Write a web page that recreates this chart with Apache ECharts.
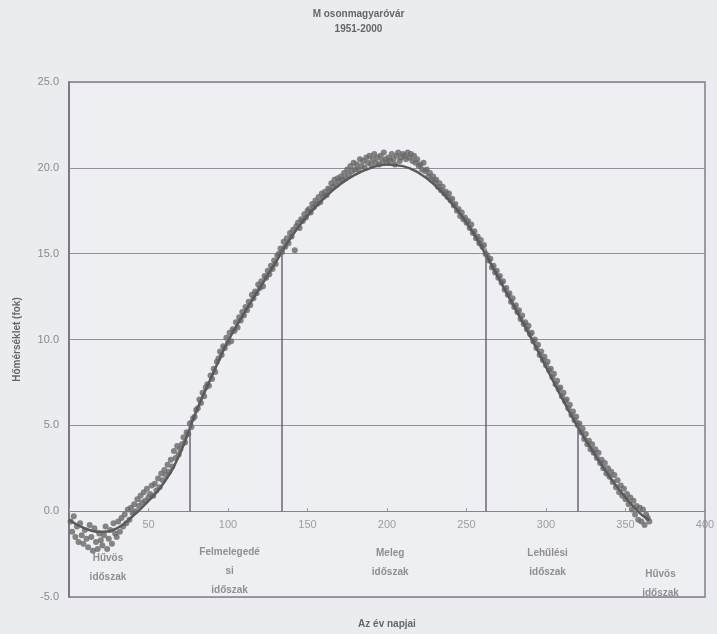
<!DOCTYPE html>
<html>
<head>
<meta charset="utf-8">
<script src="https://cdn.jsdelivr.net/npm/echarts@6/dist/echarts.min.js"></script>
<style>
  html, body { margin: 0; padding: 0; background: #ebecf0; }
  #chart { width: 717px; height: 634px; }
</style>
</head>
<body>
<div id="chart"></div>
<script>
// Daily mean temperature, Mosonmagyaróvár 1951-2000 (day 1 .. 365)
const dailyTemps = [
  -0.6, -1.2, -0.3, -1.5, -0.9, -1.8, -0.7, -1.4, -1.9, -1.1,
  -1.6, -2.1, -0.8, -1.5, -2.3, -1.0, -1.8, -2.2, -1.3, -1.7,
  -2.0, -1.4, -0.9, -2.2, -1.6, -1.1, -1.9, -0.7, -1.3, -1.5,
  -0.6, -1.2, -0.4, -0.9, -0.2, -0.7, 0.1, -0.5, 0.2, -0.1,
  0.4, 0.0, 0.7, 0.3, 0.9, 0.5, 1.1, 0.6, 1.3, 0.8,
  1.0, 1.5, 0.9, 1.6, 1.2, 1.9, 1.4, 2.2, 1.8, 2.4,
  2.1, 2.7, 2.3, 3.0, 2.6, 3.5, 3.1, 3.8, 3.3, 3.6,
  3.9, 4.3, 4.0, 4.6, 4.5, 5.1, 4.9, 5.4, 5.5, 5.9,
  6.0, 6.5, 6.3, 6.9, 6.7, 7.2, 7.4, 7.3, 7.9, 7.7,
  8.3, 8.1, 8.7, 8.9, 9.3, 9.1, 9.6, 9.5, 10.1, 9.8,
  10.4, 9.9, 10.6, 10.5, 11.0, 10.7, 11.3, 11.1, 11.6, 11.4,
  11.9, 11.7, 12.2, 12.0, 12.6, 12.4, 12.8, 12.7, 13.2, 13.0,
  13.4, 13.1, 13.7, 13.6, 14.0, 13.8, 14.3, 14.1, 14.6, 14.4,
  14.9, 15.0, 15.3, 15.1, 15.7, 15.4, 15.9, 15.6, 16.2, 16.0,
  16.4, 15.2, 16.6, 16.8, 16.5, 17.0, 16.9, 17.3, 17.1, 17.5,
  17.6, 17.4, 17.9, 17.7, 18.1, 17.9, 18.3, 18.0, 18.5, 18.3,
  18.6, 18.4, 18.8, 18.7, 19.1, 18.9, 19.3, 19.0, 19.4, 19.2,
  19.5, 19.3, 19.7, 19.4, 19.9, 19.6, 20.1, 19.8, 20.3, 19.9,
  20.2, 19.9, 20.5, 20.1, 20.4, 20.0, 20.6, 20.3, 20.7, 20.2,
  20.5, 20.8, 20.3, 20.6, 20.2, 20.7, 20.4, 20.9, 20.5, 20.3,
  20.6, 20.4, 20.8, 20.5, 20.2, 20.7, 20.9, 20.4, 20.6, 20.8,
  20.7, 20.5, 20.9, 20.6, 20.8, 20.4, 20.7, 20.3, 20.5, 20.1,
  20.2, 19.9, 20.3, 19.8, 19.9, 19.5, 19.7, 19.3, 19.5, 19.2,
  19.3, 18.9, 19.1, 18.7, 18.9, 18.5, 18.6, 18.3, 18.5, 18.1,
  18.2, 17.8, 17.9, 17.5, 17.6, 17.2, 17.4, 17.0, 17.1, 16.8,
  16.9, 16.5, 16.7, 16.2, 16.3, 15.9, 16.0, 15.6, 15.8, 15.4,
  15.5, 15.0, 14.9, 14.6, 14.7, 14.2, 14.3, 13.9, 14.0, 13.6,
  13.7, 13.3, 13.4, 12.9, 13.0, 12.6, 12.7, 12.2, 12.4, 11.9,
  12.0, 11.6, 11.7, 11.2, 11.4, 10.9, 11.0, 10.6, 10.8, 10.3,
  10.4, 9.9, 10.0, 9.5, 9.7, 9.1, 9.3, 8.8, 9.0, 8.5,
  8.7, 8.2, 8.3, 7.8, 8.0, 7.4, 7.6, 7.1, 7.2, 6.7,
  6.9, 6.4, 6.5, 6.0, 6.2, 5.6, 5.8, 5.3, 5.5, 5.0,
  5.1, 4.6, 4.8, 4.2, 4.5, 3.9, 4.1, 3.6, 3.9, 3.4,
  3.6, 3.1, 3.4, 2.8, 3.0, 2.5, 2.8, 2.2, 2.5, 2.0,
  2.3, 1.7, 2.1, 1.4, 1.8, 1.1, 1.5, 0.9, 1.3, 0.7,
  1.0, 0.4, 0.8, 0.1, 0.6, -0.2, 0.3, -0.5, 0.2, -0.6,
  0.1, -0.8, -0.2, -0.4, -0.6
];

// Smoothed annual course
const curveDays  = [0, 10, 20, 30, 40, 50, 60, 70, 80, 90, 100, 110, 120, 130, 140, 150, 160, 170, 180,
                    190, 200, 210, 220, 230, 240, 250, 260, 270, 280, 290, 300, 310, 320, 330, 340, 350, 360, 365];
const curveTemps = [-0.5, -1.0, -1.2, -1.0, -0.3, 0.6, 1.7, 3.4, 5.8, 7.9, 9.9, 11.5, 13.0, 14.5, 16.0, 17.2, 18.2, 19.0, 19.6,
                    20.0, 20.2, 20.1, 19.7, 19.0, 18.0, 16.8, 15.3, 13.6, 11.9, 10.2, 8.4, 6.6, 4.9, 3.4, 2.0, 0.8, -0.2, -0.5];

// Period boundaries (5 °C and 15 °C crossings)
const boundaryDays  = [76, 134, 262, 320];
const boundaryTemps = [5.3, 15.4, 15.3, 5.3];

// Period names and where they are written
const periodNames = ['Hűvös\nidőszak', 'Felmelegedé\nsi\nidőszak', 'Meleg\nidőszak', 'Lehűlési\nidőszak', 'Hűvös\nidőszak'];
const periodAnchors = [[24.5, -3.3], [101, -3.5], [202, -3.0], [301, -3.0], [372, -4.2]];

// Day ticks written along the 0 °C line
const dayTickLabels = [50, 100, 150, 200, 250, 300, 350, 400];

const yTicks = { min: -5, max: 25, step: 5 };
const xTicks = { min: 0, max: 400, step: 50 };

const chart = echarts.init(document.getElementById('chart'));
const fontFamily = '"Liberation Sans", Arial, sans-serif';

chart.setOption({
  backgroundColor: '#ebecf0',
  animation: false,
  title: {
    text: 'M osonmagyaróvár\n1951-2000',
    left: 'center',
    top: 2,
    textStyle: { fontFamily, fontSize: 10, fontWeight: 'bold', color: '#666', lineHeight: 15 }
  },
  grid: {
    left: 69, right: 12, top: 82, bottom: 37,
    containLabel: false,
    outerBoundsMode: 'none',
    show: true, backgroundColor: '#eeeff3', borderColor: '#847d8a', borderWidth: 1.5
  },
  xAxis: {
    type: 'value',
    min: xTicks.min, max: xTicks.max, interval: xTicks.step,
    name: 'Az év napjai',
    nameLocation: 'middle',
    nameGap: 22,
    nameTextStyle: { fontFamily, fontSize: 10, fontWeight: 'bold', color: '#666' },
    axisLine: { onZero: true, lineStyle: { color: '#8a8490', width: 1 } },
    axisTick: { show: true, inside: true, length: 3, lineStyle: { color: '#9a95a0' } },
    axisLabel: { show: false },
    splitLine: { show: false }
  },
  yAxis: {
    type: 'value',
    min: yTicks.min, max: yTicks.max, interval: yTicks.step,
    name: 'Hőmérséklet (fok)',
    nameLocation: 'middle',
    nameGap: 47,
    nameTextStyle: { fontFamily, fontSize: 10, fontWeight: 'bold', color: '#666' },
    axisLine: { show: true, onZero: false, lineStyle: { color: '#746d7a', width: 1.5 } },
    axisTick: { show: false },
    axisLabel: {
      fontFamily, fontSize: 11, color: '#8a8a8a', margin: 10,
      formatter: v => v.toFixed(1)
    },
    splitLine: { show: true, lineStyle: { color: '#948f9a', width: 1 } }
  },
  series: [
    {
      name: 'napi',
      type: 'scatter',
      symbol: 'circle',
      symbolSize: 6,
      itemStyle: { color: '#686868' },
      data: dailyTemps.map((t, i) => [i + 1, t]),
      z: 3
    },
    {
      name: 'görbe',
      type: 'line',
      smooth: true,
      showSymbol: false,
      lineStyle: { color: '#5a5a5a', width: 2.5 },
      data: curveDays.map((d, i) => [d, curveTemps[i]]),
      z: 4,
      markLine: {
        silent: true,
        symbol: ['none', 'none'],
        label: { show: false },
        lineStyle: { color: '#6d6675', width: 1.5, type: 'solid' },
        data: boundaryDays.map((d, i) => [{ coord: [d, 0] }, { coord: [d, boundaryTemps[i]] }])
      }
    },
    {
      name: 'napok',
      type: 'scatter',
      symbolSize: 0,
      silent: true,
      data: dayTickLabels.map(d => [d, 0]),
      label: {
        show: true,
        position: 'bottom',
        distance: 8,
        formatter: p => String(p.value[0]),
        fontFamily, fontSize: 11, color: '#8a8a8a'
      },
      z: 5
    },
    {
      name: 'szakaszok',
      type: 'scatter',
      symbolSize: 0,
      silent: true,
      data: periodAnchors.map((p, i) => [p[0], p[1], periodNames[i]]),
      label: {
        show: true,
        position: 'inside',
        formatter: p => p.value[2],
        fontFamily, fontSize: 10, fontWeight: 'bold', color: '#777', lineHeight: 19, align: 'center'
      },
      z: 5
    }
  ]
});
</script>
</body>
</html>
